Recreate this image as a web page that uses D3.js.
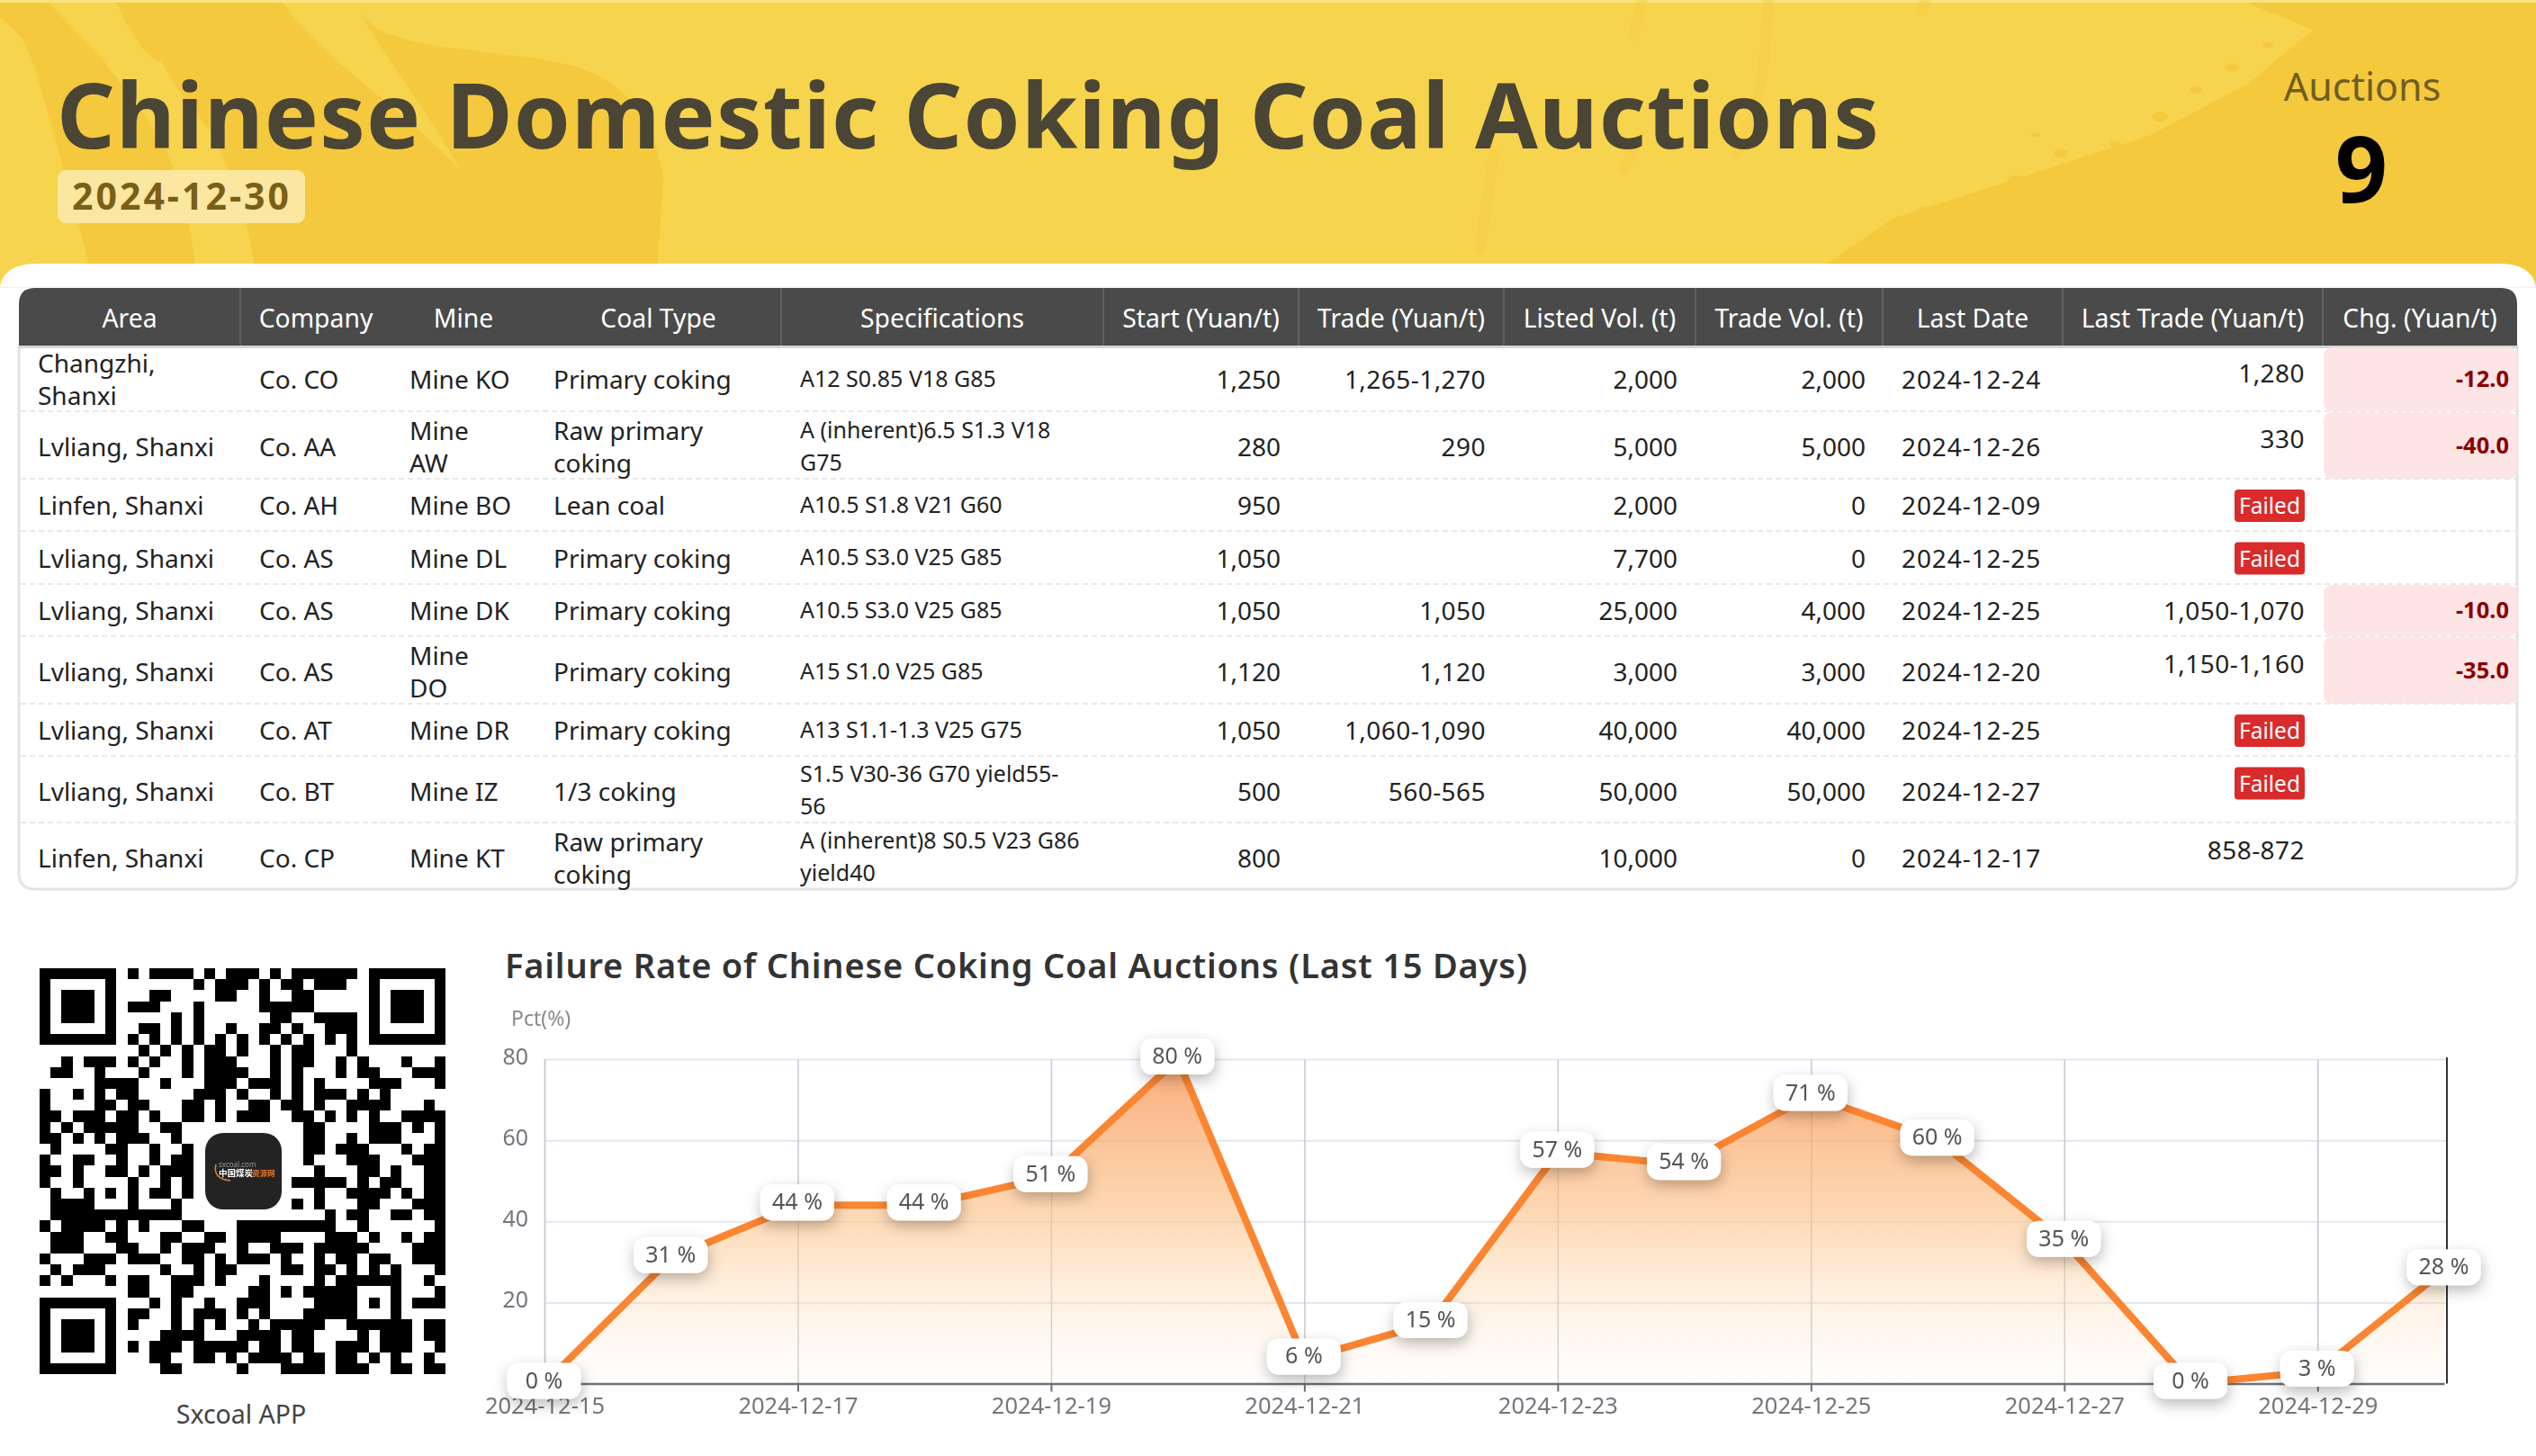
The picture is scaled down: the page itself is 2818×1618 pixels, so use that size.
<!DOCTYPE html>
<html>
<head>
<meta charset="utf-8">
<title>Chinese Domestic Coking Coal Auctions</title>
<script src="https://cdn.jsdelivr.net/npm/d3@7"></script>
<style>
html, body { margin: 0; padding: 0; background: #fff; overflow: hidden; }
text { font-family: "Noto Sans", "Open Sans", sans-serif; }
</style>
</head>
<body>
<div id="page"></div>
<script>
// table columns
var columns = ["Area", "Company", "Mine", "Coal Type", "Specifications", "Start (Yuan/t)", "Trade (Yuan/t)", "Listed Vol. (t)", "Trade Vol. (t)", "Last Date", "Last Trade (Yuan/t)", "Chg. (Yuan/t)"];
var areas = ["Changzhi,\nShanxi", "Lvliang, Shanxi", "Linfen, Shanxi", "Lvliang, Shanxi", "Lvliang, Shanxi", "Lvliang, Shanxi", "Lvliang, Shanxi", "Lvliang, Shanxi", "Linfen, Shanxi"];
var companies = ["Co. CO", "Co. AA", "Co. AH", "Co. AS", "Co. AS", "Co. AS", "Co. AT", "Co. BT", "Co. CP"];
var mines = ["Mine KO", "Mine\nAW", "Mine BO", "Mine DL", "Mine DK", "Mine\nDO", "Mine DR", "Mine IZ", "Mine KT"];
var coalTypes = ["Primary coking", "Raw primary\ncoking", "Lean coal", "Primary coking", "Primary coking", "Primary coking", "Primary coking", "1/3 coking", "Raw primary\ncoking"];
var specs = ["A12 S0.85 V18 G85", "A (inherent)6.5 S1.3 V18\nG75", "A10.5 S1.8 V21 G60", "A10.5 S3.0 V25 G85", "A10.5 S3.0 V25 G85", "A15 S1.0 V25 G85", "A13 S1.1-1.3 V25 G75", "S1.5 V30-36 G70 yield55-\n56", "A (inherent)8 S0.5 V23 G86\nyield40"];
var startPrices = [1250, 280, 950, 1050, 1050, 1120, 1050, 500, 800];
var tradePrices = ["1,265-1,270", "290", "", "", "1,050", "1,120", "1,060-1,090", "560-565", ""];
var listedVols = [2000, 5000, 2000, 7700, 25000, 3000, 40000, 50000, 10000];
var tradeVols = [2000, 5000, 0, 0, 4000, 3000, 40000, 50000, 0];
var lastDates = ["2024-12-24", "2024-12-26", "2024-12-09", "2024-12-25", "2024-12-25", "2024-12-20", "2024-12-25", "2024-12-27", "2024-12-17"];
var lastTrades = ["1,280", "330", "Failed", "Failed", "1,050-1,070", "1,150-1,160", "Failed", "Failed", "858-872"];
var changes = ["-12.0", "-40.0", "", "", "-10.0", "-35.0", "", "", ""];

// failure rate series
var dates = ["2024-12-15", "2024-12-16", "2024-12-17", "2024-12-18", "2024-12-19", "2024-12-20", "2024-12-21", "2024-12-22", "2024-12-23", "2024-12-24", "2024-12-25", "2024-12-26", "2024-12-27", "2024-12-28", "2024-12-29", "2024-12-30"];
var failRates = [0, 31, 44, 44, 51, 80, 6, 15, 57, 54, 71, 60, 35, 0, 3, 28];
var dateTicks = ["2024-12-15", "2024-12-17", "2024-12-19", "2024-12-21", "2024-12-23", "2024-12-25", "2024-12-27", "2024-12-29"];
var rateTicks = [20, 40, 60, 80];

// black runs of the QR code, row by row
var qrRows = [
    "0-6 8 10-13 15 17-19 21 23-28 30-36",
    "0 6 14 16-18 20 22-23 25-27 30 36",
    "0 2-4 6 10-11 16-17 20 23-24 30 32-34 36",
    "0 2-4 6 8-10 14 20-24 30 32-34 36",
    "0 2-4 6 12 14 21-22 25-28 30 32-34 36",
    "0 6 9-10 12 14 17 20-21 23 26-28 30 36",
    "0-6 8 10 12 14 16 18 20 22 24 26 28 30-36",
    "9 11 13 15-16 18 21 23-24 28",
    "2 4-6 8 10 13 15-17 21 23-24 27 29 33 36",
    "1-2 5 9 13 15-18 21 23 27 29-30 34-36",
    "5-8 11 15-17 19-21 23 25 30-32 36",
    "0 3 5 7-8 14-16 18 21 23 25-27 29 31",
    "0 5-6 8-9 13-14 16 19-20 22-23 25 28-31 35",
    "0-1 3-5 7-8 10 13-14 16 18-20 23-24 26 28 30 33-36",
    "0 2 4-8 11-12 24-25 30-32 34 36",
    "0-1 3 5 7-9 12 24-25 28 30-32 36",
    "1 6-7 10 13 24-25 27-29 33 35-36",
    "0 3-4 7 10 12-13 24 28-30 34-36",
    "0-1 3 6-7 9 11-13 25 29-30 32 35-36",
    "0 3 8 11 13 23-27 29 31-32 35-36",
    "1 4 6 8 10-11 13 25 28-31 33 35-36",
    "1-4 8 12 23 25 29-30 34-36",
    "1-12 26 28-29 32-33 35-36",
    "0 2-5 7 9 13-14 18-26 29 36",
    "1-3 6-7 11-12 15-16 18-21 26-28 30 33 35-36",
    "1-3 7-8 11 13-15 18 21-23 25-29 34-36",
    "0 4-6 8-10 13-14 16 18-20 22 25 27-28 30-31 34-36",
    "1 3-5 11 14 16-17 22-23 25-26 28 30 32 36",
    "0 2 6 8-9 12-14 16 20 25 27-32 35",
    "8-9 12-13 19-20 22 24-28 32 36",
    "0-6 10 12 15 18-20 25-28 30 32 34-36",
    "0 6 8-9 12 14-16 18 20 24-28 32",
    "0 2-4 6 8 12 14 16 19 21-25 28-33 35-36",
    "0 2-4 6 11-14 18-21 23-24 29 31-33 35-36",
    "0 2-4 6 8 10-12 14-18 20-21 23-24 27-29 31-33 36",
    "0 6 10-11 14-15 17 19-22 24-25 27-28 30 32 35",
    "0-6 11-12 18 22-25 27-29 32-33 35-36"
];

var width = 2818;
var height = 1618;
var svg = d3.select("#page").append("svg")
    .attr("width", width)
    .attr("height", height)
    .style("display", "block");
var defs = svg.append("defs");

// ---- banner ----
var banner = svg.append("g");
banner.append("rect").attr("width", width).attr("height", 330).attr("fill", "#f5c93d");

var curve = d3.line().curve(d3.curveCatmullRom.alpha(0.5));
var lightFill = "#f7d44e";
// big light area in the middle
banner.append("path")
    .attr("d", "M392,0 C405,30 430,42 490,52 C560,60 610,66 640,74 C700,92 730,140 737,200 L728,330 L1960,330 L2031,293 L2102,243 L2246,197 L2390,150 L2498,93 L2570,33 L2489,0 Z")
    .attr("fill", lightFill);
// brushed stripes on the left
banner.append("path").attr("d", "M51,0 L128,0 C150,50 170,70 179,67 C200,110 225,130 236,150 C260,200 280,250 287,330 L220,330 C215,250 200,210 185,167 C160,120 130,90 115,67 C90,40 70,20 51,0 Z").attr("fill", lightFill);
banner.append("path").attr("d", "M0,20 C15,30 25,40 35,65 C50,110 80,220 108,330 L0,330 Z").attr("fill", lightFill);
banner.append("path").attr("d", "M312,0 L392,0 C430,70 480,130 512,190 C450,120 360,70 312,0 Z").attr("fill", lightFill);
banner.append("rect").attr("width", width).attr("height", 3).attr("fill", "#fae27f");
// dry brush marks
var brushMarks = [[[1965, 0], [1955, 100], [1930, 170]], [[1825, 0], [1815, 40]], [[1660, 170], [1645, 275]], [[1815, 170], [1805, 185]], [[2140, 0], [2136, 12]]];
banner.selectAll("path.mark").data(brushMarks).enter().append("path")
    .attr("class", "mark")
    .attr("d", curve)
    .attr("fill", "none")
    .attr("stroke", "#f5cc44")
    .attr("stroke-width", 12)
    .attr("stroke-linecap", "round")
    .attr("opacity", 0.45);
var specks = [[2100, 262, 8], [2140, 235, 10], [2190, 225, 7], [2240, 200, 9], [2290, 170, 8], [2350, 160, 6], [2400, 130, 9], [2440, 100, 7], [2480, 75, 8], [2520, 50, 6], [2545, 85, 5], [2262, 150, 5]];
banner.selectAll("ellipse").data(specks).enter().append("ellipse")
    .attr("cx", function(d) { return d[0]; })
    .attr("cy", function(d) { return d[1]; })
    .attr("rx", function(d) { return d[2]; })
    .attr("ry", function(d) { return d[2] * 0.6; })
    .attr("fill", "#f5c93d");

banner.append("text")
    .attr("x", 63).attr("y", 165)
    .attr("font-size", 101)
    .attr("font-weight", 700)
    .attr("letter-spacing", 1.1)
    .attr("fill", "#4a4535")
    .text("Chinese Domestic Coking Coal Auctions");
banner.append("rect")
    .attr("x", 64).attr("y", 189)
    .attr("width", 275).attr("height", 59)
    .attr("rx", 9)
    .attr("fill", "#fbe7a0");
banner.append("text")
    .attr("x", 202).attr("y", 233)
    .attr("text-anchor", "middle")
    .attr("font-size", 41)
    .attr("font-weight", 700)
    .attr("letter-spacing", 3)
    .attr("fill", "#7a5f17")
    .text("2024-12-30");
banner.append("text")
    .attr("x", 2625).attr("y", 112)
    .attr("text-anchor", "middle")
    .attr("font-size", 43)
    .attr("fill", "#6f5e22")
    .text("Auctions");
banner.append("text")
    .attr("x", 2624).attr("y", 225)
    .attr("text-anchor", "middle")
    .attr("font-size", 102)
    .attr("font-weight", 700)
    .attr("fill", "#000")
    .text(areas.length);

// white card below the banner
svg.append("path")
    .attr("d", "M0,322 C0,305 14,293 40,293 L2778,293 C2804,293 2818,305 2818,322 L2818,1618 L0,1618 Z")
    .attr("fill", "#fff");
svg.append("rect")
    .attr("y", 318.5)
    .attr("width", width).attr("height", 1.5)
    .attr("fill", "#f8f2e0");

// ---- table ----
var colEdges = [21, 267, 435, 595, 868, 1226, 1443, 1671, 1884, 2092, 2292, 2581, 2797];
var rowEdges = [385, 457, 532, 590, 649, 707, 782, 840, 914, 988];
var separators = [1, 4, 5, 6, 7, 8, 9, 10, 11];
var lineHeight = 36;
var table = svg.append("g");

function rowMid(i) {
    return (rowEdges[i] + rowEdges[i + 1]) / 2;
}

table.append("path")
    .attr("d", "M21,384 L21,970 Q21,988 39,988 L2779,988 Q2797,988 2797,970 L2797,384")
    .attr("fill", "none")
    .attr("stroke", "#e4e4e4")
    .attr("stroke-width", 3);
table.append("path")
    .attr("d", "M21,384 L21,338 Q21,320 39,320 L2779,320 Q2797,320 2797,338 L2797,384 Z")
    .attr("fill", "#4a4a4a");
table.append("rect")
    .attr("x", 21).attr("y", 384)
    .attr("width", 2776).attr("height", 3)
    .attr("fill", "#d6d6d6");
table.selectAll("line.sep").data(separators).enter().append("line")
    .attr("class", "sep")
    .attr("x1", function(d) { return colEdges[d]; })
    .attr("x2", function(d) { return colEdges[d]; })
    .attr("y1", 320).attr("y2", 384)
    .attr("stroke", "#686868")
    .attr("stroke-width", 1.5);
table.selectAll("text.head").data(columns).enter().append("text")
    .attr("class", "head")
    .attr("x", function(d, i) { return (colEdges[i] + colEdges[i + 1]) / 2; })
    .attr("y", 364)
    .attr("text-anchor", "middle")
    .attr("font-size", 28.3)
    .attr("fill", "#fff")
    .text(function(d) { return d; });

// pink cells go under the dashes
changes.forEach(function(value, r) {
    if (value == "") return;
    table.append("rect")
        .attr("x", colEdges[11] + 1)
        .attr("y", rowEdges[r] + 1)
        .attr("width", colEdges[12] - colEdges[11] - 1)
        .attr("height", rowEdges[r + 1] - rowEdges[r] - 1)
        .attr("rx", 9)
        .attr("fill", "#fde4e5");
});

table.selectAll("line.row").data(rowEdges.slice(1, 9)).enter().append("line")
    .attr("class", "row")
    .attr("x1", 23).attr("x2", 2796)
    .attr("y1", function(d) { return d; })
    .attr("y2", function(d) { return d; })
    .attr("stroke", "#e9e9e9")
    .attr("stroke-width", 2)
    .attr("stroke-dasharray", "6,4");

// one text column: x, anchor, font size, vertical shift of the block
function textColumn(values, x, anchor, size, shift, spacing) {
    values.forEach(function(value, r) {
        if (value === "") return;
        var lines = String(value).split("\n");
        var tall = r > 0 && rowEdges[r + 1] - rowEdges[r] > 65;
        table.selectAll(null).data(lines).enter().append("text")
            .attr("x", x)
            .attr("y", function(d, i) {
                return rowMid(r) + shift + (tall ? 1.5 : 0) + (i - (lines.length - 1) / 2) * lineHeight + size * 0.357;
            })
            .attr("text-anchor", anchor)
            .attr("font-size", size)
            .attr("letter-spacing", spacing || 0)
            .attr("fill", "#222")
            .text(function(d) { return d; });
    });
}
var fmt = d3.format(",");
textColumn(areas, 42, "start", 28, 1.5);
textColumn(companies, 288, "start", 28, 1.5);
textColumn(mines, 455, "start", 28, 1.5);
textColumn(coalTypes, 615, "start", 28, 1.5);
textColumn(specs, 889, "start", 25, 0);
textColumn(startPrices.map(fmt), 1423, "end", 28, 1.5);
textColumn(tradePrices, 1651, "end", 28, 1.5, 0.45);
textColumn(listedVols.map(fmt), 1864, "end", 28, 1.5);
textColumn(tradeVols.map(fmt), 2073, "end", 28, 1.5);
textColumn(lastDates, 2113, "start", 28, 1.5, 0.9);

lastTrades.forEach(function(value, r) {
    var tall = rowEdges[r + 1] - rowEdges[r] > 65;
    var mid = rowMid(r) + (tall ? -6.5 : 1);
    if (value == "Failed") {
        table.append("rect")
            .attr("x", 2483).attr("y", mid - 18)
            .attr("width", 78).attr("height", 36)
            .attr("rx", 4)
            .attr("fill", "#d92b2b");
        table.append("text")
            .attr("x", 2522).attr("y", mid + 9)
            .attr("text-anchor", "middle")
            .attr("font-size", 24.5)
            .attr("fill", "#fff")
            .text(value);
    } else {
        table.append("text")
            .attr("x", 2561).attr("y", mid + 10)
            .attr("text-anchor", "end")
            .attr("font-size", 28)
            .attr("letter-spacing", 0.45)
            .attr("fill", "#222")
            .text(value);
    }
});

changes.forEach(function(value, r) {
    if (value == "") return;
    table.append("text")
        .attr("x", 2788).attr("y", rowMid(r) + 9)
        .attr("text-anchor", "end")
        .attr("font-size", 25.5)
        .attr("font-weight", 700)
        .attr("fill", "#8b0000")
        .text(value);
});

// ---- QR ----
var qr = svg.append("g").style("filter", "blur(0.5px)");
var qrScale = d3.scaleLinear().domain([0, 37]).range([44, 495]);
var qrY = d3.scaleLinear().domain([0, 37]).range([1076, 1527]);
qrRows.forEach(function(row, r) {
    var runs = row.split(" ").map(function(part) {
        var ends = part.split("-").map(Number);
        return [ends[0], ends[ends.length - 1]];
    });
    qr.selectAll(null).data(runs).enter().append("rect")
        .attr("x", function(d) { return qrScale(d[0]); })
        .attr("y", qrY(r))
        .attr("width", function(d) { return qrScale(d[1] + 1) - qrScale(d[0]); })
        .attr("height", qrY(r + 1) - qrY(r))
        .attr("shape-rendering", "crispEdges")
        .attr("fill", "#000");
});
qr.append("rect")
    .attr("x", 228).attr("y", 1259)
    .attr("width", 85).attr("height", 85)
    .attr("rx", 20)
    .attr("fill", "#232323");
qr.append("text")
    .attr("x", 243).attr("y", 1297)
    .attr("font-size", 8)
    .attr("fill", "#999")
    .text("sxcoal.com");
qr.append("text")
    .attr("x", 243).attr("y", 1307)
    .attr("font-size", 9.5)
    .attr("font-weight", 700)
    .style("font-family", "'Noto Sans CJK SC'")
    .attr("fill", "#fff")
    .text("中国煤炭");
qr.append("text")
    .attr("x", 280).attr("y", 1307)
    .attr("font-size", 8.5)
    .attr("font-weight", 700)
    .style("font-family", "'Noto Sans CJK SC'")
    .attr("fill", "#e8762c")
    .text("资源网");
qr.append("path")
    .attr("d", "M240,1294 Q236,1310 256,1312")
    .attr("fill", "none")
    .attr("stroke", "#e8862c")
    .attr("stroke-width", 1.5);

svg.append("text")
    .attr("x", 268).attr("y", 1582)
    .attr("text-anchor", "middle")
    .attr("font-size", 28.5)
    .attr("fill", "#444")
    .text("Sxcoal APP");

// ---- line chart ----
svg.append("text")
    .attr("x", 561).attr("y", 1087)
    .attr("font-size", 38)
    .attr("font-weight", 600)
    .attr("letter-spacing", 0.8)
    .attr("fill", "#333")
    .text("Failure Rate of Chinese Coking Coal Auctions (Last 15 Days)");

var x = d3.scalePoint().domain(dates).range([605, 2716]);
var y = d3.scaleLinear().domain([0, 80]).range([1537.5, 1177]);
var chart = svg.append("g").style("filter", "blur(0.45px)");

var grad = defs.append("linearGradient")
    .attr("id", "areaFill")
    .attr("gradientUnits", "userSpaceOnUse")
    .attr("x1", 0).attr("x2", 0)
    .attr("y1", y(80)).attr("y2", y(0));
grad.append("stop").attr("offset", "0").attr("stop-color", "#f98c45").attr("stop-opacity", 0.72);
grad.append("stop").attr("offset", "0.5").attr("stop-color", "#fcc48a").attr("stop-opacity", 0.62);
grad.append("stop").attr("offset", "1").attr("stop-color", "#ffeeda").attr("stop-opacity", 0.1);

var shadow = defs.append("filter")
    .attr("id", "labelShadow")
    .attr("x", "-40%").attr("y", "-50%")
    .attr("width", "180%").attr("height", "220%");
shadow.append("feDropShadow")
    .attr("dx", 1).attr("dy", 6)
    .attr("stdDeviation", 8)
    .attr("flood-color", "#000")
    .attr("flood-opacity", 0.27);

var gridY = d3.axisLeft(y).tickValues(rateTicks).tickSize(-(2719 - x.range()[0])).tickFormat("");
chart.append("g")
    .attr("transform", "translate(" + x.range()[0] + ",0)")
    .call(gridY)
    .call(function(g) { g.select(".domain").remove(); })
    .selectAll("line")
    .attr("stroke", "#e2e7f3")
    .attr("stroke-width", 2);
var gridX = d3.axisBottom(x).tickValues(dateTicks).tickSize(-(y.range()[0] - y.range()[1])).tickFormat("");
chart.append("g")
    .attr("transform", "translate(0," + y(0) + ")")
    .call(gridX)
    .call(function(g) { g.select(".domain").remove(); })
    .selectAll("line")
    .attr("stroke", "#c6c9d3")
    .attr("stroke-width", 1.5);

chart.append("line")
    .attr("x1", 2719).attr("x2", 2719)
    .attr("y1", y(80) - 2).attr("y2", y(0))
    .attr("stroke", "#333")
    .attr("stroke-width", 2);

var area = d3.area()
    .x(function(d, i) { return x(dates[i]); })
    .y0(y(0))
    .y1(function(d) { return y(d); });
chart.append("path").datum(failRates)
    .attr("d", area)
    .attr("fill", "url(#areaFill)");

var axisX = d3.axisBottom(x).tickValues(dateTicks).tickSize(9).tickSizeOuter(0).tickPadding(6);
var gx = chart.append("g")
    .attr("transform", "translate(0," + y(0) + ")")
    .call(axisX);
gx.select(".domain").attr("stroke", "#6e7079").attr("stroke-width", 2.5);
gx.selectAll("line").attr("stroke", "#6e7079").attr("stroke-width", 2);
gx.selectAll("text").attr("font-size", 25.5).attr("fill", "#74767e").style("font-family", "'Noto Sans'");

var axisY = d3.axisLeft(y).tickValues(rateTicks).tickSize(0).tickPadding(18);
var gy = chart.append("g")
    .attr("transform", "translate(" + x.range()[0] + ",0)")
    .call(axisY);
gy.select(".domain").attr("stroke", "#c6c9d3").attr("stroke-width", 1.5);
gy.selectAll("text").attr("dy", "0.2em").attr("font-size", 25).attr("fill", "#74767e").style("font-family", "'Noto Sans'");

chart.append("text")
    .attr("x", 568).attr("y", 1140)
    .attr("font-size", 23)
    .attr("fill", "#8a8a8a")
    .text("Pct(%)");

var line = d3.line()
    .x(function(d, i) { return x(dates[i]); })
    .y(function(d) { return y(d); });
chart.append("path").datum(failRates)
    .attr("d", line)
    .attr("fill", "none")
    .attr("stroke", "#fb8531")
    .attr("stroke-width", 8);

var labels = chart.selectAll("g.pt").data(failRates).enter().append("g")
    .attr("class", "pt")
    .attr("transform", function(d, i) { return "translate(" + (x(dates[i]) - 0.5) + "," + (y(d) - 3) + ")"; });
labels.append("rect")
    .attr("x", -41).attr("y", -20)
    .attr("width", 82).attr("height", 40)
    .attr("rx", 13)
    .attr("fill", "#fff")
    .attr("filter", "url(#labelShadow)");
labels.append("text")
    .attr("y", 8)
    .attr("text-anchor", "middle")
    .attr("font-size", 25)
    .attr("fill", "#555")
    .text(function(d) { return d + " %"; });
</script>
</body>
</html>
